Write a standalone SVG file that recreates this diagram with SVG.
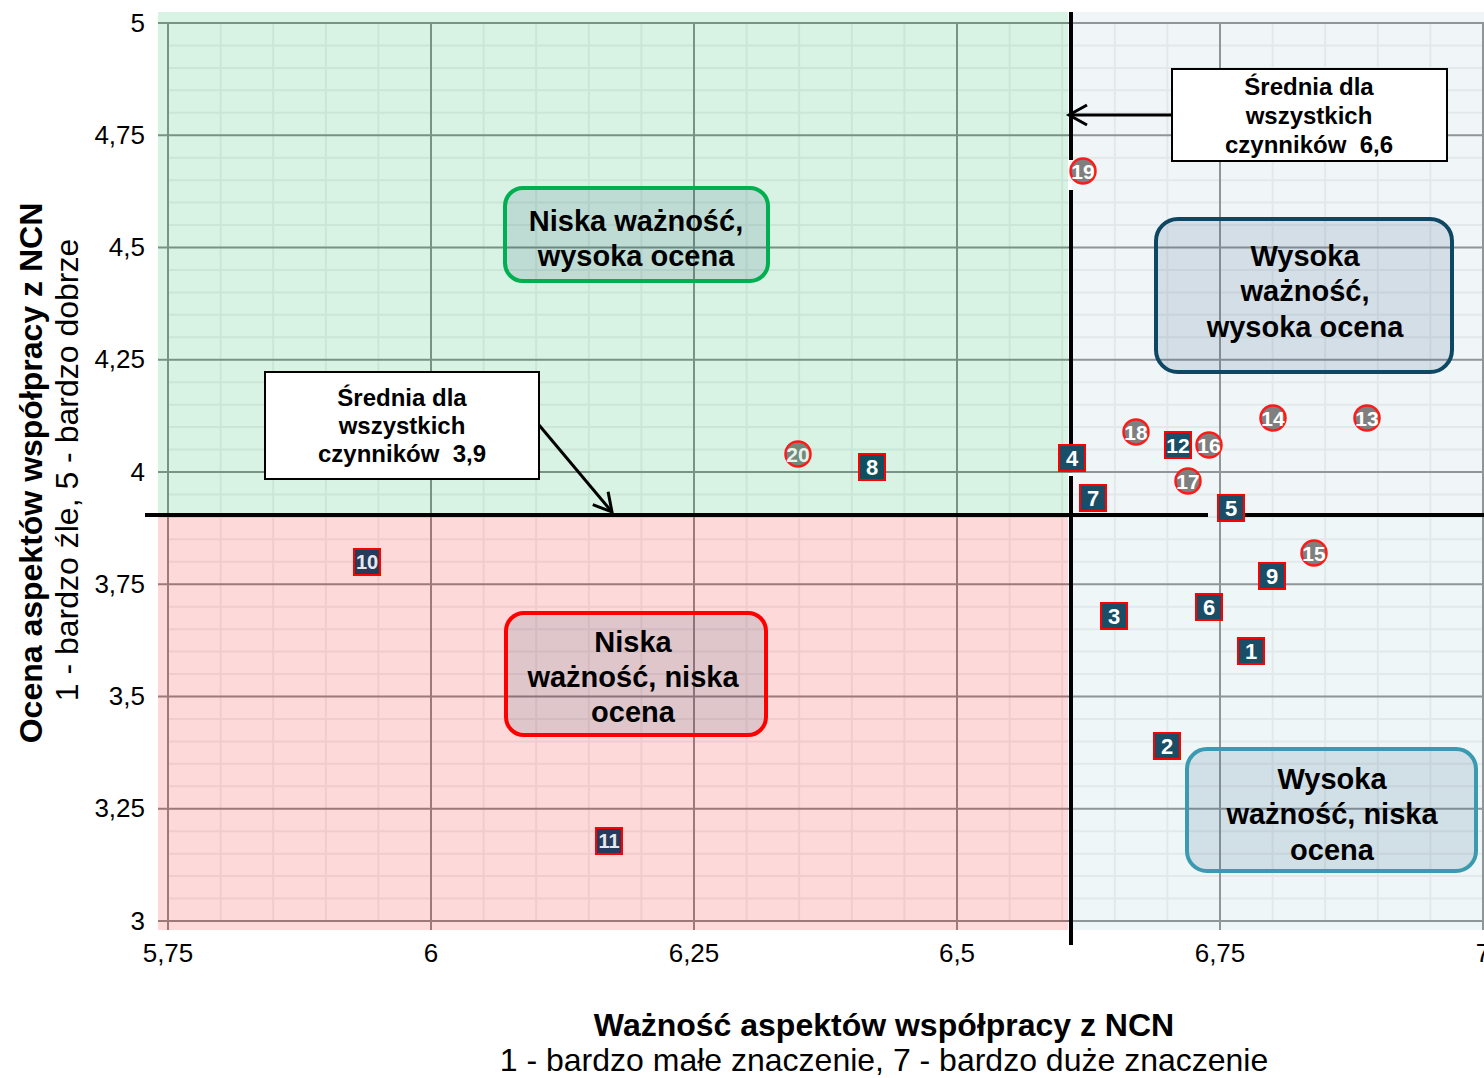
<svg xmlns="http://www.w3.org/2000/svg" width="1484" height="1078" viewBox="0 0 1484 1078">
<style>
text{font-family:"Liberation Sans",Arial,sans-serif;fill:#000}
.tick{font-size:26px}
.ty{text-anchor:end}
.tx{text-anchor:middle}
.title{font-size:32px;font-weight:bold;text-anchor:middle}
.sub{font-size:32px;text-anchor:middle}
.quad{font-size:29px;font-weight:bold;text-anchor:middle}
.call{font-size:24px;font-weight:bold;text-anchor:middle;white-space:pre}
.qbox{fill:#2f5f7f;fill-opacity:0.15;stroke-width:4}
.cbox{fill:#fff;stroke:#000;stroke-width:2}
.sq{stroke:#ff0000;stroke-width:2}
.ci{fill:#7f7f7f;stroke:#ff1a1a;stroke-width:2.5}
.num{font-size:22px;font-weight:bold;fill:#fff;text-anchor:middle}
.cnum{font-size:21px;font-weight:bold;fill:#fff;text-anchor:middle}
.blk{stroke:#000;stroke-width:4;fill:none}
.arr{stroke:#000;stroke-width:3;fill:none}
</style>
<defs>
<marker id="ah" markerUnits="userSpaceOnUse" markerWidth="26" markerHeight="26" refX="21" refY="13" orient="auto">
<path d="M3 3 L21 13 L3 23" fill="none" stroke="#000" stroke-width="3"/>
</marker>
</defs>
<rect width="1484" height="1078" fill="#fff"/>
<g id="grid">
<path d="M220.6 23V921M273.2 23V921M325.8 23V921M378.4 23V921M483.6 23V921M536.2 23V921M588.8 23V921M641.4 23V921M746.6 23V921M799.2 23V921M851.8 23V921M904.4 23V921M1009.6 23V921M1062.2 23V921M1114.8 23V921M1167.4 23V921M1272.6 23V921M1325.2 23V921M1377.8 23V921M1430.4 23V921M168 45.45H1484M168 67.9H1484M168 90.35H1484M168 112.8H1484M168 157.7H1484M168 180.15H1484M168 202.6H1484M168 225.05H1484M168 269.95H1484M168 292.4H1484M168 314.85H1484M168 337.3H1484M168 382.2H1484M168 404.65H1484M168 427.1H1484M168 449.55H1484M168 494.45H1484M168 516.9H1484M168 539.35H1484M168 561.8H1484M168 606.7H1484M168 629.15H1484M168 651.6H1484M168 674.05H1484M168 718.95H1484M168 741.4H1484M168 763.85H1484M168 786.3H1484M168 831.2H1484M168 853.65H1484M168 876.1H1484M168 898.55H1484" stroke="#eeeeee" stroke-width="2" fill="none"/>
<path d="M168 23V930M431 23V930M694 23V930M957 23V930M1220 23V930M1483 23V930M158 23H1484M158 135.25H1484M158 247.5H1484M158 359.75H1484M158 472H1484M158 584.25H1484M158 696.5H1484M158 808.75H1484M158 921H1484" stroke="#7f7f7f" stroke-width="2" fill="none"/>
</g>
<g id="regions">
<rect x="158" y="12" width="910" height="506" fill="#63cb8f" fill-opacity="0.25"/>
<rect x="158" y="515" width="910" height="415" fill="#f76767" fill-opacity="0.25"/>
<rect x="1072" y="12" width="412" height="503" fill="#c3d7e3" fill-opacity="0.25"/>
<rect x="1072" y="515" width="412" height="415" fill="#bbdbe3" fill-opacity="0.25"/>
</g>
<g id="axes">
<text class="tick ty" x="145" y="32">5</text>
<text class="tick ty" x="145" y="144">4,75</text>
<text class="tick ty" x="145" y="256">4,5</text>
<text class="tick ty" x="145" y="368">4,25</text>
<text class="tick ty" x="145" y="481">4</text>
<text class="tick ty" x="145" y="593">3,75</text>
<text class="tick ty" x="145" y="705">3,5</text>
<text class="tick ty" x="145" y="817">3,25</text>
<text class="tick ty" x="145" y="930">3</text>
<text class="tick tx" x="168" y="962">5,75</text>
<text class="tick tx" x="431" y="962">6</text>
<text class="tick tx" x="694" y="962">6,25</text>
<text class="tick tx" x="957" y="962">6,5</text>
<text class="tick tx" x="1220" y="962">6,75</text>
<text class="tick tx" x="1483" y="962">7</text>
<text class="title" x="884" y="1036">Ważność aspektów współpracy z NCN</text>
<text class="sub" x="884" y="1071">1 - bardzo małe znaczenie, 7 - bardzo duże znaczenie</text>
<text class="title" transform="translate(42 473) rotate(-90)">Ocena aspektów współpracy z NCN</text>
<text class="sub" transform="translate(78 470) rotate(-90)">1 - bardzo źle, 5 - bardzo dobrze</text>
</g>
<g id="connectors">
<path class="blk" d="M145 515H1208M1244 515H1484"/>
<path class="blk" d="M1071 12V160M1071 190V446M1071 476V945"/>
<path class="arr" d="M1172 115H1069" marker-end="url(#ah)"/>
<path class="arr" d="M539 425L612 512" marker-end="url(#ah)"/>
</g>
<g id="q-niska-wysoka">
<rect class="qbox" x="505" y="188" width="263" height="93" rx="18" stroke="#00b050"/>
<text class="quad" x="636" y="231">Niska ważność,</text>
<text class="quad" x="636" y="266">wysoka ocena</text>
</g>
<g id="q-niska-niska">
<rect class="qbox" x="506" y="613" width="260" height="122" rx="18" stroke="#ff0000"/>
<text class="quad" x="633" y="652">Niska</text>
<text class="quad" x="633" y="687">ważność, niska</text>
<text class="quad" x="633" y="722">ocena</text>
</g>
<g id="q-wysoka-wysoka">
<rect class="qbox" x="1156" y="219" width="296" height="153" rx="22" stroke="#0d4763"/>
<text class="quad" x="1305" y="266">Wysoka</text>
<text class="quad" x="1305" y="301">ważność,</text>
<text class="quad" x="1305" y="337">wysoka ocena</text>
</g>
<g id="q-wysoka-niska">
<rect class="qbox" x="1187" y="749" width="289" height="122" rx="20" stroke="#3a9ab0"/>
<text class="quad" x="1332" y="789">Wysoka</text>
<text class="quad" x="1332" y="824">ważność, niska</text>
<text class="quad" x="1332" y="860">ocena</text>
</g>
<g id="callout-x">
<rect class="cbox" x="1172" y="69" width="275" height="92"/>
<text class="call" x="1309" y="95">Średnia dla</text>
<text class="call" x="1309" y="124">wszystkich</text>
<text class="call" x="1309" y="153">czynników  6,6</text>
</g>
<g id="callout-y">
<rect class="cbox" x="265" y="372" width="274" height="107"/>
<text class="call" x="402" y="406">Średnia dla</text>
<text class="call" x="402" y="434">wszystkich</text>
<text class="call" x="402" y="462">czynników  3,9</text>
</g>
<g id="p1"><rect class="sq" x="1238" y="638" width="26" height="26" fill="#1a4d66"/><text class="num" x="1251" y="659">1</text></g>
<g id="p2"><rect class="sq" x="1154" y="733" width="26" height="26" fill="#1a4d66"/><text class="num" x="1167" y="754">2</text></g>
<g id="p3"><rect class="sq" x="1101" y="603" width="26" height="26" fill="#1a4d66"/><text class="num" x="1114" y="624">3</text></g>
<g id="p4"><rect class="sq" x="1059" y="445" width="26" height="26" fill="#1a4d66"/><text class="num" x="1072" y="466">4</text></g>
<g id="p5"><rect class="sq" x="1218" y="495" width="26" height="26" fill="#1a4d66"/><text class="num" x="1231" y="516">5</text></g>
<g id="p6"><rect class="sq" x="1196" y="594" width="26" height="26" fill="#1a4d66"/><text class="num" x="1209" y="615">6</text></g>
<g id="p7"><rect class="sq" x="1080" y="485" width="26" height="26" fill="#1a4d66"/><text class="num" x="1093" y="506">7</text></g>
<g id="p8"><rect class="sq" x="859" y="454" width="26" height="26" fill="#0e5060"/><text class="num" x="872" y="475">8</text></g>
<g id="p9"><rect class="sq" x="1259" y="563" width="26" height="26" fill="#1a4d66"/><text class="num" x="1272" y="584">9</text></g>
<g id="p10"><rect class="sq" x="354" y="549" width="26" height="26" fill="#263a5a"/><text class="num" x="367" y="569" style="fill:#e6e8ee;font-size:20px">10</text></g>
<g id="p11"><rect class="sq" x="596" y="828" width="26" height="26" fill="#263a5a"/><text class="num" x="609" y="848" style="fill:#e6e8ee;font-size:20px">11</text></g>
<g id="p12"><rect class="sq" x="1165" y="432" width="26" height="26" fill="#1a4d66"/><text class="num" x="1178" y="452.5" style="font-size:21px">12</text></g>
<g id="p13"><circle class="ci" cx="1367" cy="418" r="12.5"/><text class="cnum" x="1367" y="425.5">13</text></g>
<g id="p14"><circle class="ci" cx="1273" cy="418" r="12.5"/><text class="cnum" x="1273" y="425.5">14</text></g>
<g id="p15"><circle class="ci" cx="1314" cy="553" r="12.5"/><text class="cnum" x="1314" y="560.5">15</text></g>
<g id="p16"><circle class="ci" cx="1209" cy="445" r="12.5"/><text class="cnum" x="1209" y="452.5">16</text></g>
<g id="p17"><circle class="ci" cx="1188" cy="481" r="12.5"/><text class="cnum" x="1188" y="488.5">17</text></g>
<g id="p18"><circle class="ci" cx="1136" cy="432" r="12.5"/><text class="cnum" x="1136" y="439.5">18</text></g>
<g id="p19"><circle class="ci" cx="1083" cy="171" r="12.5"/><text class="cnum" x="1083" y="178.5">19</text></g>
<g id="p20"><circle class="ci" cx="798" cy="454" r="12.5" style="fill:#718a7b"/><text class="cnum" x="798" y="461.5" style="fill:#e6f2ea">20</text></g>
</svg>
